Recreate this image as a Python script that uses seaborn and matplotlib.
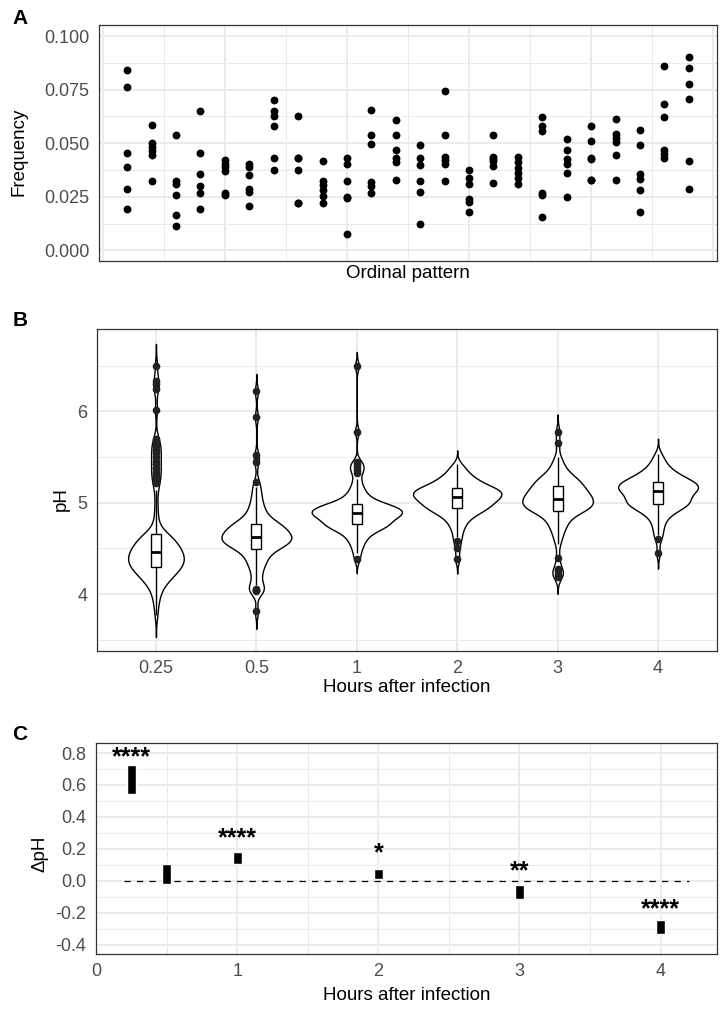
import numpy as np
import pandas as pd
import matplotlib
matplotlib.use("Agg")
import matplotlib.pyplot as plt
import seaborn as sns

# ---------------- Panel A data: frequency of each ordinal pattern ----------------
pattern_freq = [
    [0.0840, 0.0761, 0.0455, 0.0387, 0.0286, 0.0194],
    [0.0587, 0.0503, 0.0481, 0.0463, 0.0444, 0.0325],
    [0.0539, 0.0323, 0.0311, 0.0258, 0.0166, 0.0115],
    [0.0652, 0.0455, 0.0357, 0.0301, 0.0267, 0.0194],
    [0.0422, 0.0405, 0.0388, 0.0370, 0.0267, 0.0256],
    [0.0405, 0.0388, 0.0351, 0.0286, 0.0273, 0.0207],
    [0.0703, 0.0649, 0.0629, 0.0581, 0.0430, 0.0373],
    [0.0627, 0.0432, 0.0430, 0.0373, 0.0222, 0.0220],
    [0.0419, 0.0325, 0.0306, 0.0283, 0.0255, 0.0222],
    [0.0430, 0.0404, 0.0325, 0.0250, 0.0246, 0.0078],
    [0.0654, 0.0539, 0.0498, 0.0317, 0.0300, 0.0269],
    [0.0610, 0.0537, 0.0469, 0.0429, 0.0410, 0.0326],
    [0.0492, 0.0432, 0.0398, 0.0325, 0.0273, 0.0124],
    [0.0744, 0.0539, 0.0435, 0.0420, 0.0404, 0.0325],
    [0.0376, 0.0337, 0.0311, 0.0238, 0.0225, 0.0179],
    [0.0539, 0.0435, 0.0425, 0.0416, 0.0394, 0.0314],
    [0.0435, 0.0410, 0.0385, 0.0360, 0.0336, 0.0311],
    [0.0621, 0.0579, 0.0559, 0.0269, 0.0256, 0.0155],
    [0.0519, 0.0469, 0.0424, 0.0404, 0.0359, 0.0247],
    [0.0582, 0.0508, 0.0430, 0.0428, 0.0328, 0.0326],
    [0.0612, 0.0542, 0.0523, 0.0505, 0.0447, 0.0326],
    [0.0561, 0.0492, 0.0356, 0.0332, 0.0280, 0.0180],
    [0.0862, 0.0682, 0.0621, 0.0470, 0.0450, 0.0430],
    [0.0904, 0.0851, 0.0776, 0.0705, 0.0419, 0.0286],
]
freq_ticks = [0.000, 0.025, 0.050, 0.075, 0.100]

# ---------------- Panel B data: single-cell pH per time point ----------------
hour_labels = ["0.25", "0.5", "1", "2", "3", "4"]
ph_025 = [3.77, 3.88, 3.95, 4.00, 4.04, 4.07, 4.10, 4.12, 4.14, 4.16, 4.17, 4.18,
          4.19, 4.20, 4.21, 4.22, 4.23, 4.24, 4.25, 4.26, 4.27, 4.28, 4.285, 4.29,
          4.30, 4.305, 4.31, 4.32, 4.325, 4.33, 4.34, 4.345, 4.35, 4.36, 4.365, 4.37,
          4.375, 4.38, 4.39, 4.395, 4.40, 4.41, 4.415, 4.42, 4.43, 4.44, 4.445, 4.455,
          4.46, 4.465, 4.47, 4.48, 4.485, 4.49, 4.50, 4.51, 4.515, 4.52, 4.53, 4.54,
          4.55, 4.56, 4.57, 4.58, 4.59, 4.60, 4.61, 4.62, 4.63, 4.64, 4.645, 4.65,
          4.67, 4.72, 4.79, 4.88, 5.00, 5.14, 5.22, 5.26, 5.30, 5.34, 5.38, 5.42,
          5.46, 5.50, 5.54, 5.58, 5.62, 5.66, 5.70, 6.02, 6.25, 6.30, 6.33, 6.50]
ph_05 = [3.81, 4.03, 4.04, 4.05, 4.06, 4.10, 4.15, 4.20, 4.24, 4.28, 4.31, 4.34,
         4.36, 4.38, 4.40, 4.42, 4.44, 4.46, 4.48, 4.49,
         4.50, 4.51, 4.52, 4.525, 4.53, 4.54, 4.55, 4.555, 4.56, 4.57, 4.575, 4.58,
         4.59, 4.595, 4.60, 4.605, 4.61, 4.615, 4.62, 4.625,
         4.63, 4.64, 4.645, 4.65, 4.66, 4.665, 4.67, 4.68, 4.69, 4.695, 4.70, 4.71,
         4.72, 4.73, 4.735, 4.74, 4.75, 4.76, 4.765, 4.77,
         4.78, 4.79, 4.80, 4.82, 4.84, 4.86, 4.88, 4.90, 4.93, 4.96, 4.99, 5.03,
         5.07, 5.12, 5.17, 5.23, 5.45, 5.52, 5.94, 6.22]
ph_1 = [4.38, 4.45, 4.50, 4.54, 4.57, 4.60, 4.62, 4.64, 4.66, 4.68, 4.69, 4.70,
        4.71, 4.72, 4.73, 4.74, 4.745, 4.75, 4.755, 4.76,
        4.765, 4.77, 4.78, 4.79, 4.795, 4.80, 4.81, 4.82, 4.825, 4.83, 4.84, 4.845,
        4.85, 4.855, 4.86, 4.865, 4.87, 4.875, 4.88, 4.883,
        4.885, 4.89, 4.895, 4.90, 4.905, 4.91, 4.915, 4.92, 4.925, 4.93, 4.935, 4.94,
        4.945, 4.95, 4.955, 4.96, 4.965, 4.97, 4.975, 4.98,
        4.99, 5.00, 5.01, 5.02, 5.035, 5.05, 5.07, 5.09, 5.11, 5.14, 5.17, 5.21,
        5.26, 5.33, 5.36, 5.39, 5.42, 5.45, 5.78, 6.50]
ph_2 = [4.38, 4.50, 4.58, 4.63, 4.68, 4.72, 4.75, 4.78, 4.80, 4.82, 4.84, 4.86,
        4.87, 4.88, 4.89, 4.90, 4.91, 4.92, 4.93, 4.935,
        4.94, 4.95, 4.955, 4.96, 4.97, 4.975, 4.98, 4.99, 4.995, 5.00, 5.01, 5.015,
        5.02, 5.03, 5.035, 5.04, 5.045, 5.05, 5.055, 5.06,
        5.065, 5.07, 5.075, 5.08, 5.085, 5.09, 5.095, 5.10, 5.105, 5.11, 5.115, 5.12,
        5.125, 5.13, 5.135, 5.14, 5.145, 5.15, 5.155, 5.16,
        5.165, 5.17, 5.175, 5.18, 5.19, 5.20, 5.21, 5.22, 5.23, 5.24, 5.25, 5.26,
        5.27, 5.28, 5.30, 5.32, 5.34, 5.36, 5.39, 5.42]
ph_3 = [4.19, 4.22, 4.25, 4.28, 4.40, 4.55, 4.62, 4.66, 4.70, 4.73, 4.76, 4.78,
        4.80, 4.82, 4.84, 4.86, 4.875, 4.89, 4.90, 4.91,
        4.915, 4.92, 4.93, 4.935, 4.94, 4.95, 4.955, 4.96, 4.965, 4.97, 4.98, 4.985,
        4.99, 5.00, 5.005, 5.01, 5.015, 5.02, 5.03, 5.035,
        5.04, 5.05, 5.055, 5.06, 5.07, 5.075, 5.08, 5.09, 5.095, 5.10, 5.11, 5.115,
        5.12, 5.13, 5.14, 5.15, 5.16, 5.17, 5.175, 5.18,
        5.19, 5.20, 5.21, 5.22, 5.23, 5.24, 5.25, 5.26, 5.27, 5.28, 5.29, 5.31,
        5.33, 5.35, 5.38, 5.41, 5.45, 5.50, 5.65, 5.78]
ph_4 = [4.45, 4.60, 4.65, 4.70, 4.74, 4.78, 4.81, 4.84, 4.86, 4.88, 4.90, 4.91,
        4.92, 4.93, 4.94, 4.95, 4.96, 4.97, 4.975, 4.98,
        4.985, 4.99, 5.00, 5.005, 5.01, 5.02, 5.03, 5.035, 5.04, 5.05, 5.055, 5.06,
        5.07, 5.08, 5.085, 5.09, 5.10, 5.11, 5.12, 5.125,
        5.13, 5.135, 5.14, 5.145, 5.15, 5.155, 5.16, 5.165, 5.17, 5.175, 5.18, 5.185,
        5.19, 5.195, 5.20, 5.205, 5.21, 5.22, 5.225, 5.23,
        5.235, 5.24, 5.25, 5.255, 5.26, 5.27, 5.28, 5.29, 5.30, 5.31, 5.32, 5.33,
        5.34, 5.36, 5.38, 5.40, 5.42, 5.45, 5.49, 5.53]
ph_ticks = [4, 5, 6]

# ---------------- Panel C data: delta pH intervals ----------------
delta_hours = [0.25, 0.5, 1, 2, 3, 4]
delta_low = [0.542, -0.019, 0.108, 0.010, -0.115, -0.331]
delta_high = [0.723, 0.108, 0.183, 0.077, -0.029, -0.248]
star_hours = [0.25, 1, 2, 3, 4]
star_text = ["****", "****", "*", "**", "****"]
star_y = [0.800, 0.290, 0.196, 0.088, -0.152]
ref_line_x = [0.2, 4.2]
ref_line_y = [0.0, 0.0]
delta_ticks = [-0.4, -0.2, 0.0, 0.2, 0.4, 0.6, 0.8]

# ---------------- styling ----------------
sns.set_style("white")
plt.rcParams["font.family"] = ["Liberation Sans", "DejaVu Sans"]
plt.rcParams["axes.unicode_minus"] = False

GRID = "#EBEBEB"
BORDER = "#333333"
TICKC = "#4D4D4D"
TICK_FS = 13
TITLE_FS = 13.5

fig = plt.figure(figsize=(7.25, 10.11), dpi=100)


def add_ax(l, t, r, b):
    return fig.add_axes([l / 725, 1 - b / 1011, (r - l) / 725, (b - t) / 1011])


def style(ax):
    ax.set_axisbelow(True)
    for s in ax.spines.values():
        s.set_visible(True)
        s.set_color(BORDER)
        s.set_linewidth(0.9)
    ax.tick_params(which="major", length=4.3, width=0.9, color=BORDER,
                   labelcolor=TICKC, labelsize=TICK_FS, pad=2.5)
    ax.tick_params(which="minor", length=0)
    ax.grid(True, which="major", color=GRID, linewidth=1.4)
    ax.grid(True, which="minor", color=GRID, linewidth=0.7)


axA = add_ax(99, 25.3, 717, 261)
axB = add_ax(96.7, 329.3, 717.3, 650.7)
axC = add_ax(96, 743.3, 717, 954)

# ---------------- Panel A ----------------
dfA = pd.DataFrame({
    "pattern": np.repeat(np.arange(1, len(pattern_freq) + 1), [len(r) for r in pattern_freq]),
    "freq": np.concatenate([np.asarray(r) for r in pattern_freq]),
})
sns.scatterplot(data=dfA, x="pattern", y="freq", color="black", s=32,
                linewidth=0, ax=axA, zorder=3)
axA.set_xlim(-0.15, 25.15)
axA.set_ylim(-0.005, 0.105)
axA.set_xticks([0, 5, 10, 15, 20, 25])
axA.set_xticks([2.5, 7.5, 12.5, 17.5, 22.5], minor=True)
axA.set_xticklabels([])
axA.set_yticks(freq_ticks)
axA.set_yticklabels([f"{v:.3f}" for v in freq_ticks])
axA.set_yticks([0.0125, 0.0375, 0.0625, 0.0875], minor=True)
style(axA)
axA.tick_params(axis="x", which="both", length=0)
axA.set_xlabel("Ordinal pattern", fontsize=TITLE_FS, color="black")
axA.set_ylabel("Frequency", fontsize=TITLE_FS, color="black")
axA.xaxis.set_label_coords(0.5, -0.016)
axA.yaxis.set_label_coords(-0.1165, 0.4625)

# ---------------- Panel B ----------------
groups = [ph_025, ph_05, ph_1, ph_2, ph_3, ph_4]
dfB = pd.DataFrame({
    "hours": np.repeat(hour_labels, [len(g) for g in groups]),
    "pH": np.concatenate([np.asarray(g) for g in groups]),
})


def nrd0(kde):
    x = np.asarray(kde.dataset).ravel()
    sd = np.std(x, ddof=1)
    q1, q3 = np.percentile(x, [25, 75])
    h = 0.9 * min(sd, (q3 - q1) / 1.34) * len(x) ** -0.2
    return h / sd


sns.violinplot(data=dfB, x="hours", y="pH", order=hour_labels, inner=None,
               cut=3, bw_method=nrd0, bw_adjust=0.83, density_norm="area",
               width=0.9, color="white", linecolor="black", linewidth=1.0,
               ax=axB)
sns.boxplot(data=dfB, x="hours", y="pH", order=hour_labels, width=0.1,
            color="white", linecolor="black", linewidth=1.0, whis=1.5,
            showcaps=False, fliersize=4.5,
            flierprops=dict(marker="o", markerfacecolor="#222222",
                            markeredgecolor="#222222", markersize=4.5),
            medianprops=dict(linewidth=2.0, color="black"),
            ax=axB)
axB.set_xlim(-0.59, 5.59)
axB.set_ylim(3.38, 6.90)
axB.set_yticks(ph_ticks)
axB.set_yticks([3.5, 4.5, 5.5, 6.5], minor=True)
style(axB)
axB.set_xlabel("Hours after infection", fontsize=TITLE_FS, color="black")
axB.set_ylabel("pH", fontsize=TITLE_FS, color="black")
axB.xaxis.set_label_coords(0.5, -0.0896)
axB.yaxis.set_label_coords(-0.0438, 0.472)

# ---------------- Panel C ----------------
heights = np.asarray(delta_high) - np.asarray(delta_low)
axC.bar(delta_hours, heights, bottom=delta_low, width=0.062, color="black",
        zorder=3)
sns.lineplot(x=ref_line_x, y=ref_line_y, ax=axC, color="black", linewidth=0.9,
             linestyle=(0, (5, 5)), zorder=2)
for xh, t, yy in zip(star_hours, star_text, star_y):
    axC.annotate(t, xy=(xh, yy), xytext=(0, -8), textcoords="offset points",
                 ha="center", va="baseline", fontsize=18, fontweight="bold",
                 color="black", zorder=4)
axC.set_xlim(0, 4.40)
axC.set_ylim(-0.458, 0.861)
axC.set_xticks([0, 1, 2, 3, 4])
axC.set_xticks([0.5, 1.5, 2.5, 3.5], minor=True)
axC.set_yticks(delta_ticks)
axC.set_yticklabels([f"{v:.1f}" for v in delta_ticks])
axC.set_yticks([-0.3, -0.1, 0.1, 0.3, 0.5, 0.7], minor=True)
style(axC)
axC.set_xlabel("Hours after infection", fontsize=TITLE_FS, color="black")
axC.set_ylabel("\u0394pH", fontsize=TITLE_FS, color="black")
axC.xaxis.set_label_coords(0.5, -0.158)
axC.yaxis.set_label_coords(-0.0757, 0.477)

# ---------------- panel letters ----------------
for letter, y in [("A", 18), ("B", 320), ("C", 735)]:
    fig.text(20 / 725, 1 - y / 1011, letter, fontsize=15, fontweight="bold",
             ha="center", va="center", color="black")

fig.savefig("out.png", dpi=100)
